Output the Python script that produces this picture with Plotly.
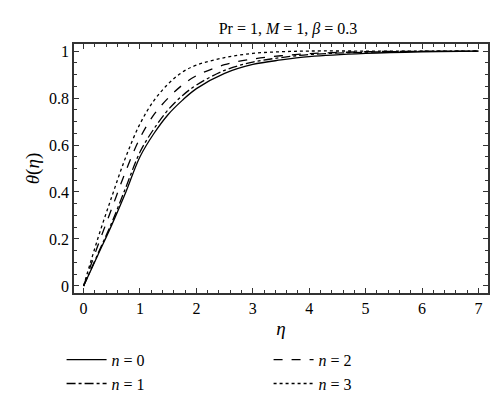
import plotly.graph_objects as go

eta = [0, 0.25, 0.5, 0.75, 1, 1.25, 1.5, 1.75, 2, 2.5, 3, 3.5, 4, 5, 6, 7]
theta_n0 = [0, 0.13, 0.26, 0.40, 0.55, 0.65, 0.73, 0.79, 0.84, 0.905, 0.943, 0.962, 0.976, 0.99, 0.997, 1.0]
theta_n1 = [0, 0.135, 0.27, 0.42, 0.57, 0.67, 0.75, 0.81, 0.855, 0.918, 0.953, 0.972, 0.985, 0.995, 0.999, 1.0]
theta_n2 = [0, 0.17, 0.33, 0.49, 0.63, 0.73, 0.80, 0.855, 0.895, 0.942, 0.966, 0.98, 0.989, 0.997, 0.999, 1.0]
theta_n3 = [0, 0.2, 0.38, 0.55, 0.69, 0.79, 0.86, 0.91, 0.94, 0.972, 0.99, 0.997, 1.0, 1.0, 1.0, 1.0]

fig = go.Figure()
styles = [('0', theta_n0, 'solid', 'legend'), ('1', theta_n1, 'dashdot', 'legend'),
          ('2', theta_n2, 'dash', 'legend2'), ('3', theta_n3, 'dot', 'legend2')]
for n, y, dash, leg in styles:
	fig.add_trace(go.Scatter(x = eta, y = y, mode = 'lines', line_shape = 'spline',
		line = dict(color = 'black', width = 1.3, dash = dash),
		name = '<i>n</i> = ' + n, legend = leg))

axis = dict(showline = True, linecolor = '#333', linewidth = 1.5, mirror = 'ticks',
	ticks = 'inside', ticklen = 5, tickcolor = '#333', showgrid = False, zeroline = False,
	minor = dict(ticks = 'inside', ticklen = 3, tickcolor = '#333'))

leg = dict(y = -0.2, xanchor = 'left', yanchor = 'top', traceorder = 'normal',
	font = dict(size = 16), itemwidth = 40, bgcolor = 'rgba(0,0,0,0)')

fig.update_layout(
	width = 500, height = 415, plot_bgcolor = 'white', paper_bgcolor = 'white',
	font = dict(family = 'Liberation Serif', size = 16, color = 'black'),
	margin = dict(l = 66, r = 20, t = 36, b = 130, autoexpand = False),
	title = dict(text = 'Pr = 1, <i>M</i> = 1, <i>β</i> = 0.3', x = 0.56, xanchor = 'center',
		y = 0.965, font = dict(size = 16)),
	xaxis = dict(axis, range = [-0.17, 7.17], tickvals = [0, 1, 2, 3, 4, 5, 6, 7],
		minor = dict(axis['minor'], dtick = 0.2),
		title = dict(text = '<i>η</i>', standoff = 6)),
	yaxis = dict(axis, range = [-0.03, 1.03], tickvals = [0, 0.2, 0.4, 0.6, 0.8, 1],
		ticktext = ['0', '0.2', '0.4', '0.6', '0.8', '1'],
		minor = dict(axis['minor'], dtick = 0.05),
		title = dict(text = '<i>θ</i>(<i>η</i>)', standoff = 4)),
	legend = dict(leg, x = -0.03),
	legend2 = dict(leg, x = 0.47),
)

fig.write_html("out.html")
